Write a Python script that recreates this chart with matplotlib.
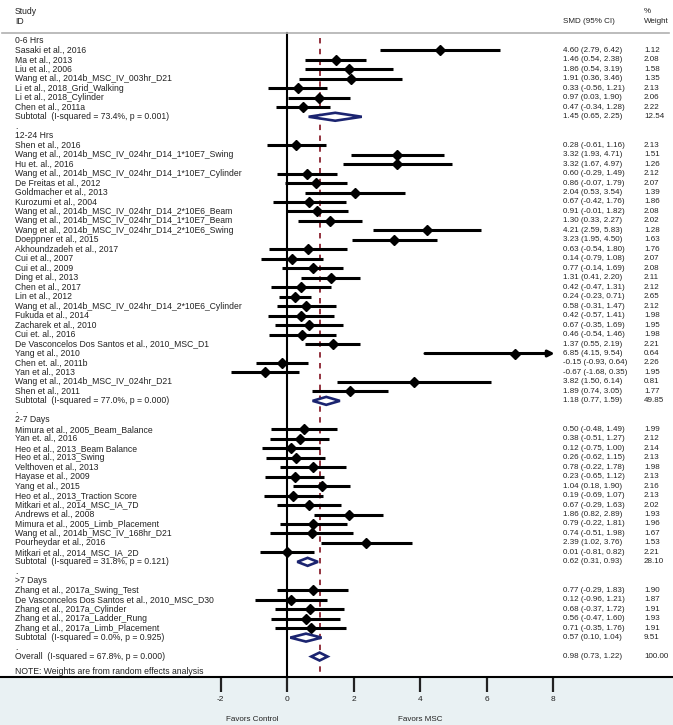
import numpy as np
import matplotlib
matplotlib.use("Agg")
import matplotlib.pyplot as plt
from matplotlib.patches import Polygon

plt.rcParams['font.family'] = ['Liberation Sans', 'DejaVu Sans']

# ---- data (SMD, 95% CI, % weight) ----
groups = ["0-6 Hrs", "12-24 Hrs", "2-7 Days", ">7 Days"]

studies_06 = ["Sasaki et al., 2016", "Ma et al., 2013", "Liu et al., 2006",
              "Wang et al., 2014b_MSC_IV_003hr_D21", "Li et al., 2018_Grid_Walking",
              "Li et al., 2018_Cylinder", "Chen et al., 2011a"]
smd_06 = [4.60, 1.46, 1.86, 1.91, 0.33, 0.97, 0.47]
lo_06 = [2.79, 0.54, 0.54, 0.36, -0.56, 0.03, -0.34]
hi_06 = [6.42, 2.38, 3.19, 3.46, 1.21, 1.90, 1.28]
w_06 = [1.12, 2.08, 1.58, 1.35, 2.13, 2.06, 2.22]

studies_1224 = ["Shen et al., 2016", "Wang et al., 2014b_MSC_IV_024hr_D14_1*10E7_Swing",
                "Hu et. al., 2016", "Wang et al., 2014b_MSC_IV_024hr_D14_1*10E7_Cylinder",
                "De Freitas et al., 2012", "Goldmacher et al., 2013", "Kurozumi et al., 2004",
                "Wang et al., 2014b_MSC_IV_024hr_D14_2*10E6_Beam",
                "Wang et al., 2014b_MSC_IV_024hr_D14_1*10E7_Beam",
                "Wang et al., 2014b_MSC_IV_024hr_D14_2*10E6_Swing",
                "Doeppner et al., 2015", "Akhoundzadeh et al., 2017", "Cui et al., 2007",
                "Cui et al., 2009", "Ding et al., 2013", "Chen et al., 2017", "Lin et al., 2012",
                "Wang et al., 2014b_MSC_IV_024hr_D14_2*10E6_Cylinder", "Fukuda et al., 2014",
                "Zacharek et al., 2010", "Cui et. al., 2016",
                "De Vasconcelos Dos Santos et al., 2010_MSC_D1", "Yang et al., 2010",
                "Chen et. al., 2011b", "Yan et al., 2013", "Wang et al., 2014b_MSC_IV_024hr_D21",
                "Shen et al., 2011"]
smd_1224 = [0.28, 3.32, 3.32, 0.60, 0.86, 2.04, 0.67, 0.91, 1.30, 4.21, 3.23, 0.63, 0.14,
            0.77, 1.31, 0.42, 0.24, 0.58, 0.42, 0.67, 0.46, 1.37, 6.85, -0.15, -0.67, 3.82, 1.89]
lo_1224 = [-0.61, 1.93, 1.67, -0.29, -0.07, 0.53, -0.42, -0.01, 0.33, 2.59, 1.95, -0.54, -0.79,
           -0.14, 0.41, -0.47, -0.23, -0.31, -0.57, -0.35, -0.54, 0.55, 4.15, -0.93, -1.68, 1.50, 0.74]
hi_1224 = [1.16, 4.71, 4.97, 1.49, 1.79, 3.54, 1.76, 1.82, 2.27, 5.83, 4.50, 1.80, 1.08,
           1.69, 2.20, 1.31, 0.71, 1.47, 1.41, 1.69, 1.46, 2.19, 9.54, 0.64, 0.35, 6.14, 3.05]
w_1224 = [2.13, 1.51, 1.26, 2.12, 2.07, 1.39, 1.86, 2.08, 2.02, 1.28, 1.63, 1.76, 2.07,
          2.08, 2.11, 2.12, 2.65, 2.12, 1.98, 1.95, 1.98, 2.21, 0.64, 2.26, 1.95, 0.81, 1.77]

studies_27 = ["Mimura et al., 2005_Beam_Balance", "Yan et. al., 2016", "Heo et al., 2013_Beam Balance",
              "Heo et al., 2013_Swing", "Velthoven et al., 2013", "Hayase et al., 2009",
              "Yang et al., 2015", "Heo et al., 2013_Traction Score", "Mitkari et al., 2014_MSC_IA_7D",
              "Andrews et al., 2008", "Mimura et al., 2005_Limb_Placement",
              "Wang et al., 2014b_MSC_IV_168hr_D21", "Pourheydar et al., 2016",
              "Mitkari et al., 2014_MSC_IA_2D"]
smd_27 = [0.50, 0.38, 0.12, 0.26, 0.78, 0.23, 1.04, 0.19, 0.67, 1.86, 0.79, 0.74, 2.39, 0.01]
lo_27 = [-0.48, -0.51, -0.75, -0.62, -0.22, -0.65, 0.18, -0.69, -0.29, 0.82, -0.22, -0.51, 1.02, -0.81]
hi_27 = [1.49, 1.27, 1.00, 1.15, 1.78, 1.12, 1.90, 1.07, 1.63, 2.89, 1.81, 1.98, 3.76, 0.82]
w_27 = [1.99, 2.12, 2.14, 2.13, 1.98, 2.13, 2.16, 2.13, 2.02, 1.93, 1.96, 1.67, 1.53, 2.21]

studies_7 = ["Zhang et al., 2017a_Swing_Test", "De Vasconcelos Dos Santos et al., 2010_MSC_D30",
             "Zhang et al., 2017a_Cylinder", "Zhang et al., 2017a_Ladder_Rung",
             "Zhang et al., 2017a_Limb_Placement"]
smd_7 = [0.77, 0.12, 0.68, 0.56, 0.71]
lo_7 = [-0.29, -0.96, -0.37, -0.47, -0.35]
hi_7 = [1.83, 1.21, 1.72, 1.60, 1.76]
w_7 = [1.90, 1.87, 1.91, 1.93, 1.91]

# subtotals: I-squared, p, SMD, lo, hi, weight
sub_i2 = ["73.4%", "77.0%", "31.8%", "0.0%"]
sub_p = ["0.001", "0.000", "0.121", "0.925"]
sub_smd = [1.45, 1.18, 0.62, 0.57]
sub_lo = [0.65, 0.77, 0.31, 0.10]
sub_hi = [2.25, 1.59, 0.93, 1.04]
sub_w = [12.54, 49.85, 28.10, 9.51]

overall = dict(i2="67.8%", p="0.000", smd=0.98, lo=0.73, hi=1.22, w=100.00)

xticks = [-2, 0, 2, 4, 6, 8]

# ---- build row table ----
rows = []
study_sets = [(studies_06, smd_06, lo_06, hi_06, w_06),
              (studies_1224, smd_1224, lo_1224, hi_1224, w_1224),
              (studies_27, smd_27, lo_27, hi_27, w_27),
              (studies_7, smd_7, lo_7, hi_7, w_7)]
for g, (names, s, l, h, w) in enumerate(study_sets):
    rows.append(("head", groups[g], None))
    for i in range(len(names)):
        rows.append(("study", names[i], (s[i], l[i], h[i], w[i])))
    rows.append(("sub", f"Subtotal  (I-squared = {sub_i2[g]}, p = {sub_p[g]})",
                 (sub_smd[g], sub_lo[g], sub_hi[g], sub_w[g])))
    rows.append(("dot", ".", None))
rows.append(("sub", f"Overall  (I-squared = {overall['i2']}, p = {overall['p']})",
             (overall['smd'], overall['lo'], overall['hi'], overall['w'])))
rows.append(("note", "NOTE: Weights are from random effects analysis", None))

# ---- figure ----
W, H = 673, 725
fig = plt.figure(figsize=(W / 100, H / 100), dpi=100)
fig.patch.set_facecolor('#e9f1f3')

axis_px = 677          # pixel row of the x axis
row0_px, row_dy = 41, 9.47
px_per_unit, zero_px = 33.25, 287

ax = fig.add_axes([0, 1 - axis_px / H, 1, axis_px / H])
ax.set_facecolor('white')
ax.set_xlim(-zero_px / px_per_unit, (W - zero_px) / px_per_unit)
ax.set_ylim((axis_px - row0_px) / row_dy, -row0_px / row_dy)

for sp in ['top', 'left', 'right']:
    ax.spines[sp].set_visible(False)
ax.spines['bottom'].set_linewidth(1.5)
ax.set_yticks([])
ax.set_xticks(xticks)
ax.set_xticklabels([str(t) for t in xticks])
ax.tick_params(axis='x', direction='out', length=11, width=1.6, labelsize=6,
               pad=3, colors='#222222')

fs_lab = 6.2
fs_num = 5.8
lab_kw = dict(fontsize=fs_lab, color='#222222', va='center')
num_kw = dict(fontsize=fs_num, color='#222222', va='center')
col_ci = (563 - zero_px) / px_per_unit
col_w = (644 - zero_px) / px_per_unit
col_lab = (15 - zero_px) / px_per_unit
navy = '#1b2470'
clip_hi = 8.05

# header
ax.text(col_lab, (12 - row0_px) / row_dy, "Study", **lab_kw)
ax.text(col_lab, (22 - row0_px) / row_dy, "ID", **lab_kw)
ax.text(col_ci, (22 - row0_px) / row_dy, "SMD (95% CI)", **num_kw)
ax.text(col_w, (12 - row0_px) / row_dy, "%", **num_kw)
ax.text(col_w, (22 - row0_px) / row_dy, "Weight", **num_kw)
ax.plot([(2 - zero_px) / px_per_unit, (669 - zero_px) / px_per_unit],
        [(33 - row0_px) / row_dy] * 2, color='#b0b0b0', lw=1.2)

# reference lines
ax.plot([0, 0], [(33 - row0_px) / row_dy, ax.get_ylim()[0]], color='black', lw=1.5, zorder=1)
ax.plot([overall['smd']] * 2, [(38 - row0_px) / row_dy, ax.get_ylim()[0]],
        color='#8b2330', lw=1.3, ls=(0, (3, 3)), zorder=1)

for r, (kind, label, vals) in enumerate(rows):
    ypos = r + 0.55 if kind == "note" else r
    ax.text(col_lab, ypos, label, **lab_kw)
    if vals is None:
        continue
    s, l, h, w = vals
    ax.text(col_ci, r, f"{s:.2f} ({l:.2f}, {h:.2f})", **num_kw)
    ax.text(col_w, r, f"{w:.2f}", **num_kw)
    if kind == "study":
        if h > clip_hi:
            ax.annotate('', xy=(clip_hi, r), xytext=(l, r),
                        arrowprops=dict(arrowstyle='-|>', lw=2.2, color='black',
                                        mutation_scale=9, shrinkA=0, shrinkB=0), zorder=3)
        else:
            ax.plot([l, h], [r, r], color='black', lw=2.2, solid_capstyle='butt', zorder=3)
        ax.plot(s, r, marker='D', color='black', markersize=4.8, zorder=4)
    else:
        d = 0.42
        ax.add_patch(Polygon([(l, r), (s, r - d), (h, r), (s, r + d)], closed=True,
                             facecolor='white', edgecolor=navy, lw=1.9, zorder=4))

# bottom labels
ax.text(-1.05, (720 - row0_px) / row_dy, "Favors Control", fontsize=fs_num, color='#222222',
        ha='center', va='center', clip_on=False)
ax.text(4.0, (720 - row0_px) / row_dy, "Favors MSC", fontsize=fs_num, color='#222222',
        ha='center', va='center', clip_on=False)

fig.savefig("out.png", dpi=100, facecolor=fig.get_facecolor())
